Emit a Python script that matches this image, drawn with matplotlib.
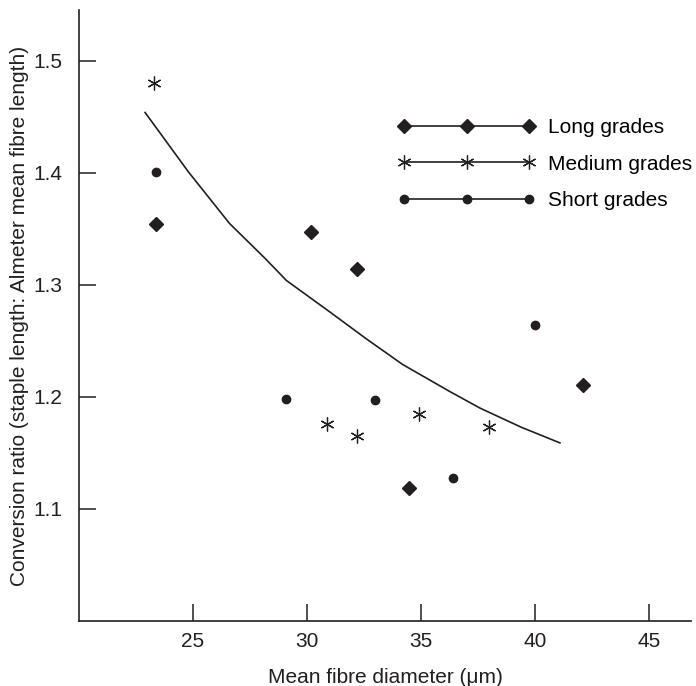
import matplotlib.pyplot as plt

plt.rcParams['font.family'] = ['Liberation Sans', 'DejaVu Sans']

ink = '#231f20'

# data
long_x = [23.4, 30.2, 32.2, 34.5, 42.1]
long_y = [1.354, 1.347, 1.314, 1.119, 1.211]
medium_x = [23.3, 30.9, 32.2, 34.9, 38.0]
medium_y = [1.480, 1.176, 1.165, 1.185, 1.173]
short_x = [23.4, 29.1, 33.0, 36.4, 40.0]
short_y = [1.401, 1.198, 1.197, 1.128, 1.264]
curve_x = [22.9, 24.8, 26.6, 28.2, 29.1, 31.0, 32.6, 34.2, 36.3, 37.6, 39.4, 41.1]
curve_y = [1.454, 1.401, 1.355, 1.323, 1.304, 1.276, 1.252, 1.229, 1.2045, 1.190, 1.173, 1.159]

fig = plt.figure(figsize=(6.96, 6.86), dpi=100)
ax = fig.add_axes([0.1135, 0.0948, 0.8793, 0.8906])

ax.plot(curve_x, curve_y, color=ink, lw=1.2)
ax.plot(long_x, long_y, ls='none', marker='D', ms=7, color=ink,
        label='Long grades')
ax.plot(medium_x, medium_y, ls='none', marker=(6, 2, 0), ms=10, mew=0.9,
        color=ink, label='Medium grades')
ax.plot(short_x, short_y, ls='none', marker='o', ms=6, color=ink,
        label='Short grades')

# legend shows the markers strung on a line
handles = [plt.Line2D([], [], color=ink, lw=1.2, marker='D', ms=7),
           plt.Line2D([], [], color=ink, lw=1.2, marker=(6, 2, 0), ms=10, mew=0.9),
           plt.Line2D([], [], color=ink, lw=1.2, marker='o', ms=6)]
ax.legend(handles, ['Long grades', 'Medium grades', 'Short grades'],
          numpoints=3, handlelength=6.6, handletextpad=0.62, labelspacing=0.85,
          frameon=False, fontsize=15, loc='upper left',
          bbox_to_anchor=(0.521, 0.8235), borderaxespad=0, borderpad=0)

ax.set_xlim(20, 46.85)
ax.set_ylim(1.0, 1.5455)
ax.set_xticks([25, 30, 35, 40, 45])
ax.set_yticks([1.1, 1.2, 1.3, 1.4, 1.5])
ax.set_yticklabels(['1.1', '1.2', '1.3', '1.4', '1.5'])

for side in ['top', 'right']:
    ax.spines[side].set_visible(False)
for side in ['left', 'bottom']:
    ax.spines[side].set_linewidth(1.2)
    ax.spines[side].set_color(ink)
ax.tick_params(direction='in', length=12, width=1.1, colors=ink,
               labelsize=15, pad=8)
ax.tick_params(axis='y', pad=12)

ax.set_xlabel('Mean fibre diameter (μm)', fontsize=15, color=ink, labelpad=12)
ax.set_ylabel('Conversion ratio (staple length: Almeter mean fibre length)',
              fontsize=15, color=ink, labelpad=3)

fig.savefig('out.png', dpi=100)
